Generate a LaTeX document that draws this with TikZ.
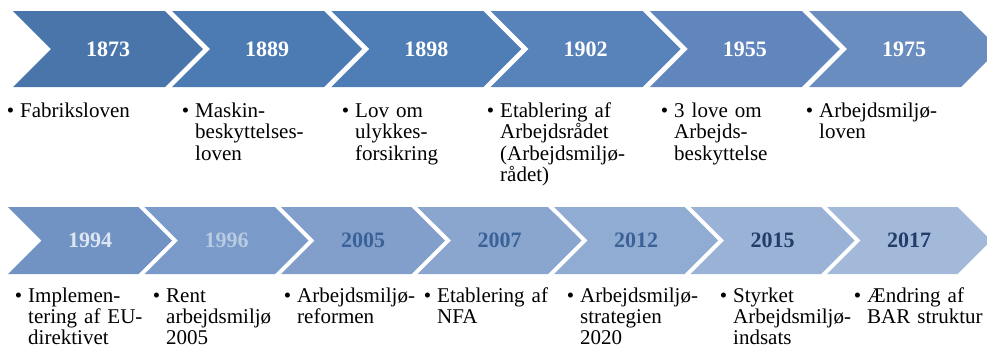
\documentclass[tikz,border=0pt]{standalone}
\usepackage{fontspec}
\setmainfont{Liberation Serif}
\usepackage{xcolor}
\usepackage{tikz}
\usetikzlibrary{shapes.symbols,positioning}
\definecolor{topa}{HTML}{4A75AB}
\definecolor{topb}{HTML}{4C7AB2}
\definecolor{topc}{HTML}{4F7DB5}
\definecolor{topd}{HTML}{5782BA}
\definecolor{tope}{HTML}{6186BD}
\definecolor{topf}{HTML}{6A8DC0}
\definecolor{lowa}{HTML}{7193C4}
\definecolor{lowb}{HTML}{7A9BC9}
\definecolor{lowc}{HTML}{829FCB}
\definecolor{lowd}{HTML}{8AA6CF}
\definecolor{lowe}{HTML}{91ACD2}
\definecolor{lowf}{HTML}{99B2D6}
\definecolor{lowg}{HTML}{A3B9DA}
\definecolor{paleyear}{HTML}{DCE5F1}
\definecolor{fadeyear}{HTML}{B8CBE3}
\definecolor{midyear}{HTML}{3A6298}
\definecolor{darkyear}{HTML}{223D68}
\tikzset{
  yearbox/.style={signal,signal to=east,signal from=west,signal pointer angle=90,
    fill=#1,draw=none,inner sep=0pt,outer sep=0pt,minimum width=190pt,
    minimum height=76pt,text=white,font=\fontsize{22}{22}\selectfont\bfseries},
  lowbox/.style={yearbox=#1,minimum width=164pt,minimum height=67pt},
  item/.style={anchor=base west,text width=150pt,align=left,inner sep=0pt,
    font=\fontsize{21}{21.5}\selectfont},
  lowitem/.style={item,font=\fontsize{21}{21}\selectfont}
}
\newcommand{\bul}{\llap{\textbullet\hspace{6pt}}}

\begin{document}
\begin{tikzpicture}[x=1pt,y=-1pt]
  \useasboundingbox (0,0) rectangle (987,349);
  % upper row
  \node[yearbox=topa] (y1873) at (108,49) {1873};
  \node[yearbox=topb] (y1889) at (267.2,49) {1889};
  \node[yearbox=topc] (y1898) at (426.4,49) {1898};
  \node[yearbox=topd] (y1902) at (585.6,49) {1902};
  \node[yearbox=tope] (y1955) at (744.8,49) {1955};
  \node[yearbox=topf] (y1975) at (904,49) {1975};
  \node[item] (t1873) at (20,117) {\bul Fabriksloven};
  \node[item] (t1889) at (195,117) {\bul Maskin-\\beskyttelses-\\loven};
  \node[item] (t1898) at (355,117) {\bul Lov om\\ulykkes-\\forsikring};
  \node[item] (t1902) at (500,117) {\bul Etablering af\\Arbejdsrådet\\(Arbejdsmiljø-\\rådet)};
  \node[item] (t1955) at (674,117) {\bul 3 love om\\Arbejds-\\beskyttelse};
  \node[item] (t1975) at (819,117) {\bul Arbejdsmiljø-\\loven};
  % lower row
  \node[lowbox=lowa,text=paleyear] (y1994) at (90,240.5) {1994};
  \node[lowbox=lowb,text=fadeyear] (y1996) at (226.5,240.5) {1996};
  \node[lowbox=lowc,text=midyear] (y2005) at (363,240.5) {2005};
  \node[lowbox=lowd,text=midyear] (y2007) at (499.5,240.5) {2007};
  \node[lowbox=lowe,text=midyear] (y2012) at (636,240.5) {2012};
  \node[lowbox=lowf,text=darkyear] (y2015) at (772.5,240.5) {2015};
  \node[lowbox=lowg,text=darkyear] (y2017) at (909,240.5) {2017};
  \node[lowitem] (t1994) at (28,302) {\bul Implemen-\\tering af EU-\\direktivet};
  \node[lowitem] (t1996) at (166,302) {\bul Rent\\arbejdsmiljø\\2005};
  \node[lowitem] (t2005) at (297,302) {\bul Arbejdsmiljø-\\reformen};
  \node[lowitem] (t2007) at (437,302) {\bul Etablering af\\NFA};
  \node[lowitem] (t2012) at (580,302) {\bul Arbejdsmiljø-\\strategien\\2020};
  \node[lowitem] (t2015) at (733,302) {\bul Styrket\\Arbejdsmiljø-\\indsats};
  \node[lowitem] (t2017) at (867,302) {\bul Ændring af\\BAR struktur};
\end{tikzpicture}
\end{document}
